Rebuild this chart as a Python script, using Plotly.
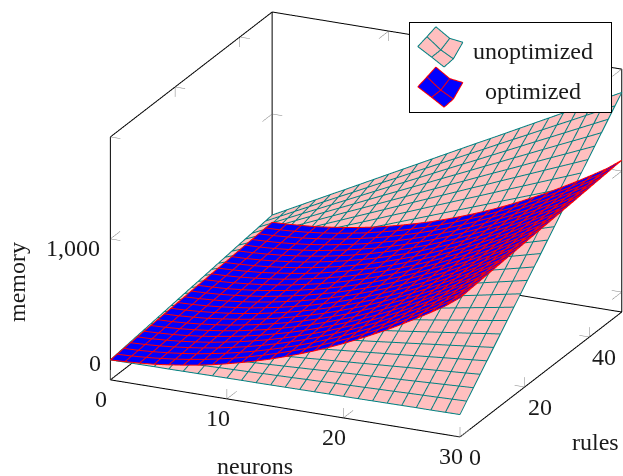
import plotly.graph_objects as go
import math

neurons = [0,1.25,2.5,3.75,5,6.25,7.5,8.75,10,11.25,12.5,13.75,15,16.25,17.5,18.75,20,21.25,22.5,23.75,25,26.25,27.5,28.75,30]
rules = [0,2.083,4.167,6.25,8.333,10.417,12.5,14.583,16.667,18.75,20.833,22.917,25,27.083,29.167,31.25,33.333,35.417,37.5,39.583,41.667,43.75,45.833,47.917,50]
unopt_by_n = [
[0,7,14,21,28,34,41,48,55,62,69,76,83,89,96,103,110,117,124,131,138,144,151,158,165],
[1,10,20,29,38,48,57,67,76,86,95,104,114,123,133,142,152,161,170,180,189,199,208,217,227],
[2,14,26,38,50,62,73,85,97,109,121,133,145,157,169,181,193,205,217,229,241,253,265,277,289],
[3,17,32,46,61,75,90,104,119,133,148,162,177,191,206,220,235,249,264,278,293,307,322,336,351],
[3,20,37,55,72,89,106,123,140,157,174,191,208,225,242,259,276,293,310,327,344,361,378,396,413],
[4,24,43,63,83,102,122,141,161,181,200,220,239,259,278,298,318,337,357,376,396,416,435,455,474],
[5,27,49,71,94,116,138,160,182,204,226,249,271,293,315,337,359,381,404,426,448,470,492,514,536],
[6,31,55,80,105,129,154,179,203,228,253,277,302,327,351,376,401,425,450,475,500,524,549,574,598],
[7,34,61,88,116,143,170,197,225,252,279,306,333,361,388,415,442,470,497,524,551,579,606,633,660],
[8,37,67,97,127,156,186,216,246,275,305,335,365,395,424,454,484,514,543,573,603,633,663,692,722],
[8,41,73,105,138,170,202,235,267,299,332,364,396,428,461,493,525,558,590,622,655,687,719,752,784],
[9,44,79,114,149,184,218,253,288,323,358,393,428,462,497,532,567,602,637,672,706,741,776,811,846],
[10,47,85,122,160,197,235,272,309,347,384,421,459,496,534,571,608,646,683,721,758,795,833,870,908],
[11,51,91,131,171,211,251,291,331,370,410,450,490,530,570,610,650,690,730,770,810,850,890,930,970],
[12,54,97,139,182,224,267,309,352,394,437,479,522,564,607,649,692,734,777,819,862,904,947,989,1032],
[13,58,103,148,193,238,283,328,373,418,463,508,553,598,643,688,733,778,823,868,913,958,1003,1048,1093],
[13,61,109,156,204,251,299,346,394,442,489,537,584,632,680,727,775,822,870,918,965,1013,1060,1108,1155],
[14,64,114,165,215,265,315,365,415,465,515,566,616,666,716,766,816,866,916,966,1017,1067,1117,1167,1217],
[15,68,120,173,226,278,331,384,436,489,542,594,647,700,752,805,858,910,963,1016,1068,1121,1174,1226,1279],
[16,71,126,182,237,292,347,402,458,513,568,623,678,734,789,844,899,955,1010,1065,1120,1175,1231,1286,1341],
[17,75,132,190,248,306,363,421,479,537,594,652,710,768,825,883,941,999,1056,1114,1172,1230,1287,1345,1403],
[18,78,138,198,259,319,379,440,500,560,621,681,741,802,862,922,982,1043,1103,1163,1224,1284,1344,1404,1465],
[18,81,144,207,270,333,395,458,521,584,647,710,773,835,898,961,1024,1087,1150,1212,1275,1338,1401,1464,1527],
[19,85,150,215,281,346,412,477,542,608,673,738,804,869,935,1000,1065,1131,1196,1261,1327,1392,1458,1523,1588],
[20,88,156,224,292,360,428,496,564,631,699,767,835,903,971,1039,1107,1175,1243,1311,1379,1447,1515,1583,1650]]
opt_by_n = [
[0,4,9,13,18,22,26,31,35,39,44,48,53,57,61,66,70,74,79,83,88,92,96,101,105],
[5,9,13,18,22,27,31,35,40,44,48,53,57,62,66,70,75,79,83,88,92,97,101,105,110],
[13,17,21,26,30,34,39,43,48,52,56,61,65,69,74,78,83,87,91,96,100,104,109,113,118],
[23,28,32,37,41,45,50,54,58,63,67,72,76,80,85,89,93,98,102,107,111,115,120,124,128],
[38,42,46,51,55,59,64,68,73,77,81,86,90,94,99,103,108,112,116,121,125,129,134,138,143],
[55,59,63,68,72,77,81,85,90,94,98,103,107,112,116,120,125,129,133,138,142,147,151,155,160],
[75,79,84,88,93,97,101,106,110,114,119,123,128,132,136,141,145,149,154,158,163,167,171,176,180],
[98,103,107,112,116,120,125,129,133,138,142,147,151,155,160,164,168,173,177,182,186,190,195,199,203],
[125,129,134,138,143,147,151,156,160,164,169,173,178,182,186,191,195,199,204,208,213,217,221,226,230],
[155,159,163,168,172,177,181,185,190,194,198,203,207,212,216,220,225,229,233,238,242,247,251,255,260],
[188,192,196,201,205,209,214,218,223,227,231,236,240,244,249,253,258,262,266,271,275,279,284,288,293],
[223,228,232,237,241,245,250,254,258,263,267,272,276,280,285,289,293,298,302,307,311,315,320,324,328],
[263,267,271,276,280,284,289,293,298,302,306,311,315,319,324,328,333,337,341,346,350,354,359,363,368],
[305,309,313,318,322,327,331,335,340,344,348,353,357,362,366,370,375,379,383,388,392,397,401,405,410],
[350,354,359,363,368,372,376,381,385,389,394,398,403,407,411,416,420,424,429,433,438,442,446,451,455],
[398,403,407,412,416,420,425,429,433,438,442,447,451,455,460,464,468,473,477,482,486,490,495,499,503],
[450,454,459,463,468,472,476,481,485,489,494,498,503,507,511,516,520,524,529,533,538,542,546,551,555],
[505,509,513,518,522,527,531,535,540,544,548,553,557,562,566,570,575,579,583,588,592,597,601,605,610],
[563,567,571,576,580,584,589,593,598,602,606,611,615,619,624,628,633,637,641,646,650,654,659,663,668],
[623,628,632,637,641,645,650,654,658,663,667,672,676,680,685,689,693,698,702,707,711,715,720,724,728],
[688,692,696,701,705,709,714,718,723,727,731,736,740,744,749,753,758,762,766,771,775,779,784,788,793],
[755,759,763,768,772,777,781,785,790,794,798,803,807,812,816,820,825,829,833,838,842,847,851,855,860],
[825,829,834,838,843,847,851,856,860,864,869,873,878,882,886,891,895,899,904,908,913,917,921,926,930],
[898,903,907,912,916,920,925,929,933,938,942,947,951,955,960,964,968,973,977,982,986,990,995,999,1003],
[985,989,994,998,1003,1007,1011,1016,1020,1024,1029,1033,1038,1042,1046,1051,1055,1059,1064,1068,1073,1077,1081,1086,1090]]
x_ticks=[0,10,20,30]; y_ticks=[0,20,40]; z_ticks=[0,1000]
XMIN,XMAX,YMIN,YMAX,ZMIN,ZMAX=0,30,0,50,-165,1843
TEXT="Liberation Serif"
FLAT=dict(ambient=1,diffuse=0,specular=0,roughness=1,fresnel=0)
def T(m): return [list(r) for r in zip(*m)]

def surf(z,fill,scene="scene"):
    return go.Surface(x=neurons,y=rules,z=T(z),colorscale=[[0,fill],[1,fill]],showscale=False,
        lighting=FLAT,hoverinfo="skip",scene=scene)
def lines(segs,color,width=1,scene="scene"):
    xs,ys,zs=[],[],[]
    for a,b in segs:
        xs+=[a[0],b[0],None];ys+=[a[1],b[1],None];zs+=[a[2],b[2],None]
    return go.Scatter3d(x=xs,y=ys,z=zs,mode="lines",line=dict(color=color,width=width),hoverinfo="skip",showlegend=False,scene=scene)
def mesh(z,color,width,scene):
    xs,ys,zs=[],[],[]
    for i,n in enumerate(neurons):
        xs+=[n]*len(rules)+[None]; ys+=list(rules)+[None]; zs+=list(z[i])+[None]
    for j,r in enumerate(rules):
        xs+=list(neurons)+[None]; ys+=[r]*len(neurons)+[None]; zs+=[row[j] for row in z]+[None]
    return go.Scatter3d(x=xs,y=ys,z=zs,mode="lines",line=dict(color=color,width=width),hoverinfo="skip",showlegend=False,scene=scene)

A=(XMIN,YMIN,ZMIN);B=(XMAX,YMIN,ZMIN);C=(XMAX,YMAX,ZMIN);D=(XMIN,YMAX,ZMIN)
E=(XMIN,YMIN,ZMAX);G=(XMAX,YMAX,ZMAX);H=(XMIN,YMAX,ZMAX)
box=[(A,B),(B,C),(C,D),(D,A),(A,E),(E,H),(H,G),(G,C),(D,H)]
tx,ty,tz=0.86,3.0,82
ticks=[]
def add(p,*ds):
    for d in ds: ticks.append((p,(p[0]+d[0],p[1]+d[1],p[2]+d[2])))
for v in x_ticks:
    add((v,YMIN,ZMIN),(0,ty,0),(0,0,tz)); add((v,YMAX,ZMAX),(0,-ty,0),(0,0,-tz))
for v in y_ticks:
    add((XMAX,v,ZMIN),(-tx,0,0),(0,0,tz)); add((XMIN,v,ZMAX),(tx,0,0),(0,0,-tz))
for v in z_ticks:
    add((XMIN,YMIN,v),(tx,0,0),(0,ty,0)); add((XMAX,YMAX,v),(-tx,0,0),(0,-ty,0)); add((XMIN,YMAX,v),(tx,0,0),(0,-ty,0))

fig=go.Figure()
fig.add_trace(surf(unopt_by_n,"#FFBFBF"))
fig.add_trace(lines(box,"#000000",2))
fig.add_trace(lines(ticks,"#808080",1))
fig.add_trace(mesh(unopt_by_n,"#008080",2,"scene2"))
fig.add_trace(surf(opt_by_n,"#0000FF","scene3"))
fig.add_trace(mesh(opt_by_n,"#FF0000",2,"scene4"))

g=[[(26,86.7),(40,75),(53.3,71)],[(17,76.7),(31,63.3),(43.7,54.3)],[(7.7,66.7),(21.7,56),(34.3,46)]]
for off,fill,line in [(0,"#FFBFBF","#008080"),(40.7,"#0000FF","#FF0000")]:
    gx=[[p[0] for p in r] for r in g]; gy=[[p[1]-off for p in r] for r in g]
    fig.add_trace(go.Surface(x=gx,y=gy,z=[[0]*3]*3,colorscale=[[0,fill],[1,fill]],showscale=False,hoverinfo="skip",
        lighting=FLAT,scene="scene5"))
    segs=[]
    for r in range(3):
        for c_ in range(2):
            segs.append(((gx[r][c_],gy[r][c_],.5),(gx[r][c_+1],gy[r][c_+1],.5)))
            segs.append(((gx[c_][r],gy[c_][r],.5),(gx[c_+1][r],gy[c_+1][r],.5)))
    fig.add_trace(lines(segs,line,2,"scene5"))

az=math.radians(-65.3); el=math.radians(20.8)
d=(math.cos(el)*math.cos(az),math.cos(el)*math.sin(az),math.sin(el))
right=(-math.sin(az),math.cos(az),0)
up=(-math.sin(el)*math.cos(az),-math.sin(el)*math.sin(az),math.cos(el))
K=2.0
P=237.7
SX,SY=54.5,13.5
c=tuple((-SX*right[i]-SY*up[i])/P for i in range(3))
hidden=dict(visible=False,showgrid=False,zeroline=False,showspikes=False,showbackground=False)
def ann(x,y,z,t,dx,dy):
    return dict(x=x,y=y,z=z,text=t,showarrow=False,xanchor="center",yanchor="middle",xshift=dx,yshift=dy,font=dict(family=TEXT,size=24,color="#1a1a1a"))
sa=[ann(v,YMIN,ZMIN,f"{v}",-9,-19) for v in x_ticks]+[ann(XMAX,v,ZMIN,f"{v}",15,-20) for v in y_ticks]+\
   [ann(XMIN,YMIN,v,f"{v:,}",-15 if v==0 else -37,-3 if v==0 else -9) for v in z_ticks]
W,Hh=623,476
cam=dict(projection=dict(type="orthographic"),up=dict(x=0,y=0,z=1),center=dict(x=c[0],y=c[1],z=c[2]),
      eye=dict(x=c[0]+K*d[0],y=c[1]+K*d[1],z=c[2]+K*d[2]))
main=dict(domain=dict(x=[0,1],y=[0,1]),xaxis=dict(hidden,range=[XMIN-.03,XMAX+.03]),yaxis=dict(hidden,range=[YMIN-.05,YMAX+.05]),zaxis=dict(hidden,range=[ZMIN-2,ZMAX+2]),
    aspectmode="manual",aspectratio=dict(x=1.62,y=1.63,z=1.094),camera=cam)
def lab(x,y,t,**k):
    return dict(xref="paper",yref="paper",x=x/W,y=1-y/Hh,xanchor="center",yanchor="middle",text=t,showarrow=False,font=dict(family=TEXT,size=24,color="#1a1a1a"),**k)
fig.update_layout(width=W,height=Hh,margin=dict(l=0,r=0,t=0,b=0),paper_bgcolor="white",showlegend=False,
  scene=dict(main,annotations=sa),scene2=dict(main),scene3=dict(main),scene4=dict(main),
  scene5=dict(domain=dict(x=[409/W,612/W],y=[1-113/Hh,1-22/Hh]),bgcolor="white",
    xaxis=dict(hidden,range=[0,203]),yaxis=dict(hidden,range=[0,91]),zaxis=dict(hidden,range=[-1,1]),
    aspectmode="manual",aspectratio=dict(x=4.41,y=1.977,z=1),
    camera=dict(projection=dict(type="orthographic"),up=dict(x=0,y=1,z=0),center=dict(x=0,y=0,z=0),eye=dict(x=0,y=0,z=2))),
  annotations=[
   dict(xref="paper",yref="paper",x=510.5/W,y=1-67.5/Hh,xanchor="center",yanchor="middle",text=" ",showarrow=False,width=201,height=89,bordercolor="#000",borderwidth=1,borderpad=0),
   lab(533,51,"unoptimized"),lab(533,91,"optimized"),lab(255,466,"neurons"),lab(595,442,"rules"),lab(17,282,"memory",textangle=-90),
  ])
fig.write_html("out.html",post_script="document.body.style.margin='0';",config=dict(displayModeBar=False))
